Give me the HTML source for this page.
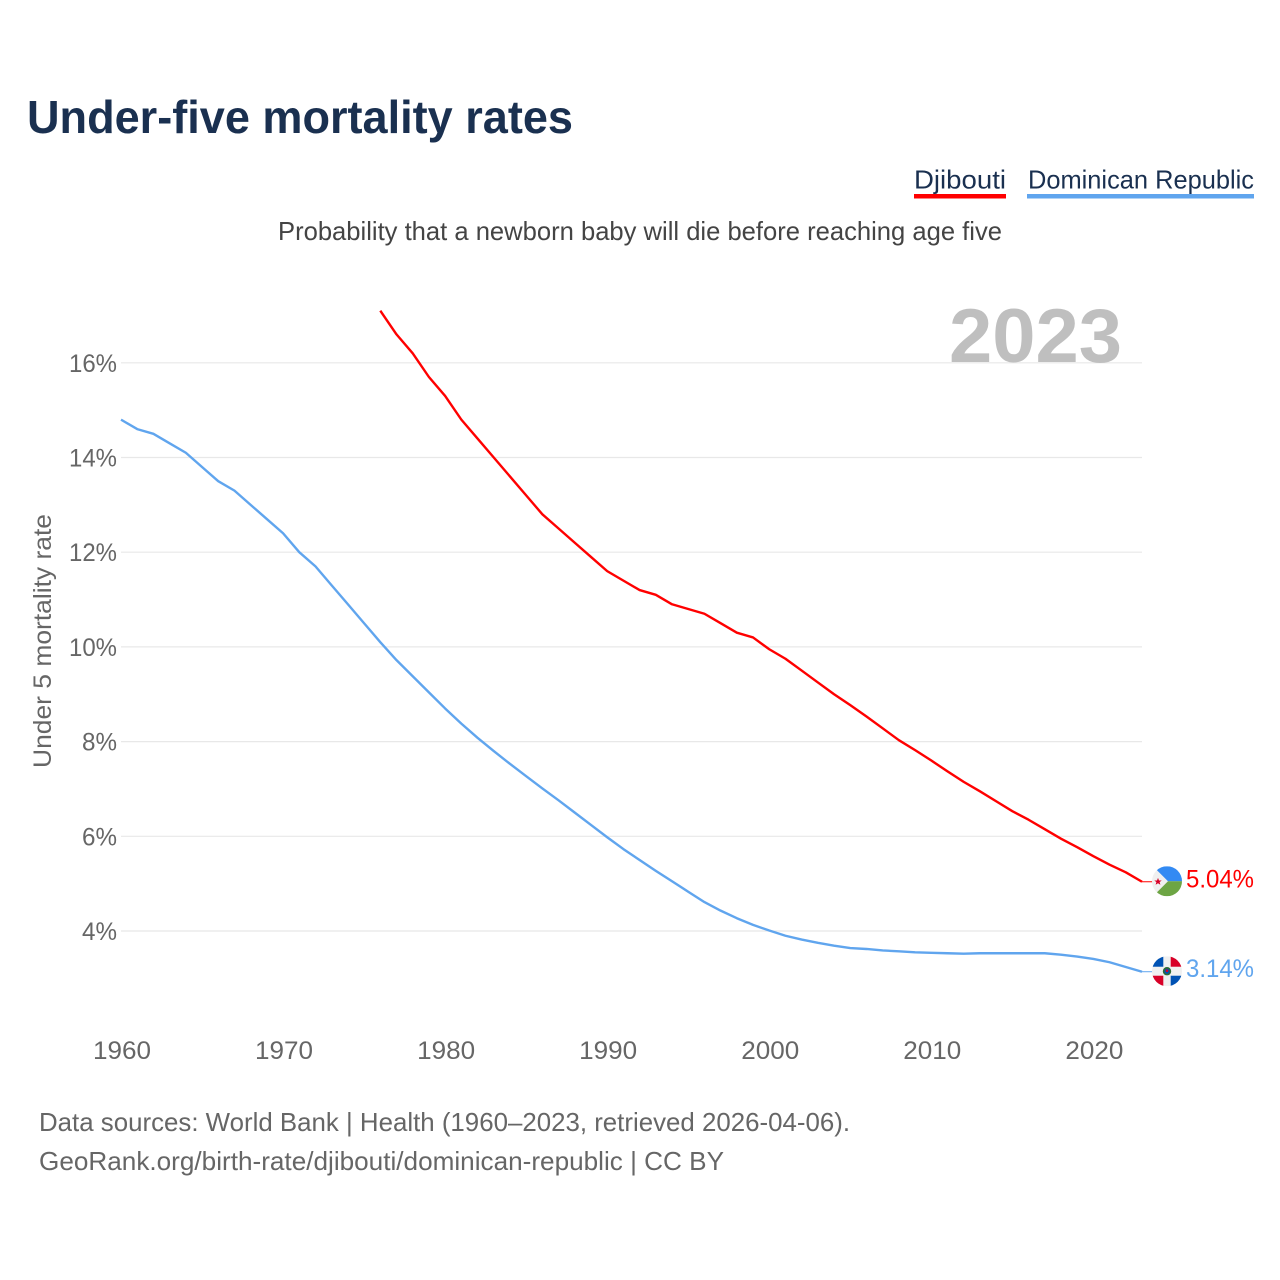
<!DOCTYPE html>
<html lang="en">
<head>
<meta charset="utf-8">
<title>Under-five mortality rates</title>
<style>
html,body{margin:0;padding:0;background:#fff;width:1280px;height:1280px;overflow:hidden}
svg{display:block;font-family:"Liberation Sans",sans-serif}
</style>
</head>
<body>
<svg id="chart" xmlns="http://www.w3.org/2000/svg" width="1280" height="1280" viewBox="0 0 1280 1280">
  <defs>
    <clipPath id="flag-clip"><circle cx="0" cy="0" r="15"/></clipPath>
  </defs>
  <rect width="1280" height="1280" fill="#fff"/>
  <text x="27" y="133" font-size="46" font-weight="700" fill="#1a3050" textLength="546" lengthAdjust="spacingAndGlyphs">Under-five mortality rates</text>

  <g>
    <text x="914" y="188.5" font-size="26" fill="#1a3050" textLength="92" lengthAdjust="spacingAndGlyphs">Djibouti</text>
    <rect x="914" y="194" width="92" height="4.5" fill="#ff0000"/>
  </g>
  <g>
    <text x="1028" y="188.5" font-size="26" fill="#1a3050" textLength="226" lengthAdjust="spacingAndGlyphs">Dominican Republic</text>
    <rect x="1027" y="194" width="227" height="4.5" fill="#60a5ee"/>
  </g>

  <text x="278" y="240" font-size="26" fill="#444" textLength="724" lengthAdjust="spacingAndGlyphs">Probability that a newborn baby will die before reaching age five</text>

  <g id="grid"></g>
  <text x="949" y="362" font-size="76" font-weight="700" fill="#bfbfbf" textLength="173" lengthAdjust="spacingAndGlyphs">2023</text>
  <g id="y-ticks"></g>
  <g id="x-ticks"></g>
  <text transform="translate(51,768) rotate(-90)" font-size="25" fill="#666" textLength="254" lengthAdjust="spacingAndGlyphs">Under 5 mortality rate</text>

  <g id="series"></g>

  <g id="flag-dj">
    <g clip-path="url(#flag-clip)">
      <rect x="-15" y="-15" width="30" height="30" fill="#f0f0f0"/>
      <polygon points="-10,-11 -8,-15 15,-15 15,0 1,0" fill="#338af3"/>
      <polygon points="-10,11 -8,15 15,15 15,0 1,0" fill="#6da544"/>
      <polygon points="-9,-3.4 -8,-0.8 -5.3,-0.8 -7.4,0.9 -6.6,3.5 -9,2 -11.4,3.5 -10.6,0.9 -12.7,-0.8 -10,-0.8" fill="#d80027"/>
    </g>
  </g>
  <g id="flag-do">
    <g clip-path="url(#flag-clip)">
      <rect x="-15" y="-15" width="30" height="30" fill="#f0f0f0"/>
      <rect x="-15" y="-15" width="11.3" height="10.5" fill="#0052b4"/>
      <rect x="3.7" y="-15" width="11.3" height="10.5" fill="#d80027"/>
      <rect x="-15" y="4.5" width="11.3" height="10.5" fill="#d80027"/>
      <rect x="3.7" y="4.5" width="11.3" height="10.5" fill="#0052b4"/>
      <circle r="4.2" fill="#2f6b35"/>
      <circle r="2.6" fill="#0052b4"/>
      <circle cy="-0.5" r="1.3" fill="#d80027"/>
    </g>
  </g>
  <g id="end-labels"></g>

  <text x="39" y="1131" font-size="26" fill="#666" textLength="811" lengthAdjust="spacingAndGlyphs">Data sources: World Bank | Health (1960–2023, retrieved 2026-04-06).</text>
  <text x="39" y="1170" font-size="26" fill="#666" textLength="685" lengthAdjust="spacingAndGlyphs">GeoRank.org/birth-rate/djibouti/dominican-republic | CC BY</text>
</svg>
<script>
const xTickYears = [1960, 1970, 1980, 1990, 2000, 2010, 2020];
const yTickValues = [4, 6, 8, 10, 12, 14, 16];
const dominicanStartYear = 1960;
const dominicanValues = [14.8,14.6,14.5,14.3,14.1,13.8,13.5,13.3,13.0,12.7,12.4,12.0,11.7,11.3,10.9,10.5,10.1,9.72,9.38,9.04,8.7,8.38,8.08,7.8,7.53,7.27,7.01,6.76,6.5,6.24,5.98,5.73,5.5,5.27,5.05,4.83,4.61,4.43,4.27,4.13,4.01,3.9,3.82,3.75,3.69,3.64,3.62,3.59,3.57,3.55,3.54,3.53,3.52,3.53,3.53,3.53,3.53,3.53,3.5,3.46,3.41,3.34,3.24,3.14];
const djiboutiStartYear = 1976;
const djiboutiValues = [17.1,16.6,16.2,15.7,15.3,14.8,14.4,14.0,13.6,13.2,12.8,12.5,12.2,11.9,11.6,11.4,11.2,11.1,10.9,10.8,10.7,10.5,10.3,10.2,9.95,9.75,9.5,9.25,9.0,8.77,8.53,8.28,8.03,7.82,7.6,7.37,7.15,6.95,6.74,6.53,6.35,6.15,5.95,5.77,5.58,5.4,5.24,5.04];

const NS = 'http://www.w3.org/2000/svg';
const xScale = function (year) { return 121 + (year - 1960) * (1142 - 121) / 63; };
const yScale = function (value) { return 931 - (value - 4) * 47.35; };
const make = function (tag, parent) {
  const el = document.createElementNS(NS, tag);
  document.getElementById(parent).appendChild(el);
  return el;
};

yTickValues.forEach(function (v) {
  const line = make('line', 'grid');
  
  
  line.setAttribute('x1', xScale(1960));
  line.setAttribute('x2', xScale(2023));
  line.setAttribute('y1', yScale(v));
  line.setAttribute('y2', yScale(v));
  line.setAttribute('stroke', '#e8e8e8');
  line.setAttribute('stroke-width', '1.2');

  const label = v + '%';
  const t = make('text', 'y-ticks');
  
  
  const w = 13 * label.length + 9;
  t.setAttribute('x', 117 - w);
  t.setAttribute('y', yScale(v) + 9);
  t.setAttribute('font-size', '25');
  t.setAttribute('fill', '#666');
  t.setAttribute('textLength', w);
  t.setAttribute('lengthAdjust', 'spacingAndGlyphs');
  t.textContent = label;
});

xTickYears.forEach(function (year) {
  const t = make('text', 'x-ticks');
  
  
  t.setAttribute('x', xScale(year) - 29 + 1);
  t.setAttribute('y', 1059);
  t.setAttribute('font-size', '25');
  t.setAttribute('fill', '#666');
  t.setAttribute('textLength', '58');
  t.setAttribute('lengthAdjust', 'spacingAndGlyphs');
  t.textContent = String(year);
});

const drawSeries = function (values, startYear, color, name, flagId) {
  const pts = values.map(function (v, i) {
    return xScale(startYear + i).toFixed(2) + ',' + yScale(v).toFixed(2);
  });
  const path = make('polyline', 'series');
  
  
  path.setAttribute('points', pts.join(' '));
  path.setAttribute('fill', 'none');
  path.setAttribute('stroke', color);
  path.setAttribute('stroke-width', '2.4');
  path.setAttribute('stroke-linejoin', 'round');

  const last = values[values.length - 1];
  const yEnd = yScale(last);
  const lead = make('line', 'series');
  
  
  lead.setAttribute('x1', xScale(2023));
  lead.setAttribute('x2', 1153);
  lead.setAttribute('y1', yEnd);
  lead.setAttribute('y2', yEnd);
  lead.setAttribute('stroke', color);
  lead.setAttribute('stroke-width', '1');

  document.getElementById(flagId).setAttribute('transform', 'translate(1167,' + (yEnd - 0.5) + ')');

  const t = make('text', 'end-labels');
  
  
  t.setAttribute('x', 1186);
  t.setAttribute('y', yEnd + 5.5);
  t.setAttribute('font-size', '25');
  t.setAttribute('fill', color);
  t.setAttribute('textLength', '68');
  t.setAttribute('lengthAdjust', 'spacingAndGlyphs');
  t.textContent = last.toFixed(2) + '%';
};

drawSeries(dominicanValues, dominicanStartYear, '#60a5ee', 'dominican-republic', 'flag-do');
drawSeries(djiboutiValues, djiboutiStartYear, '#ff0000', 'djibouti', 'flag-dj');
</script>
</body>
</html>
